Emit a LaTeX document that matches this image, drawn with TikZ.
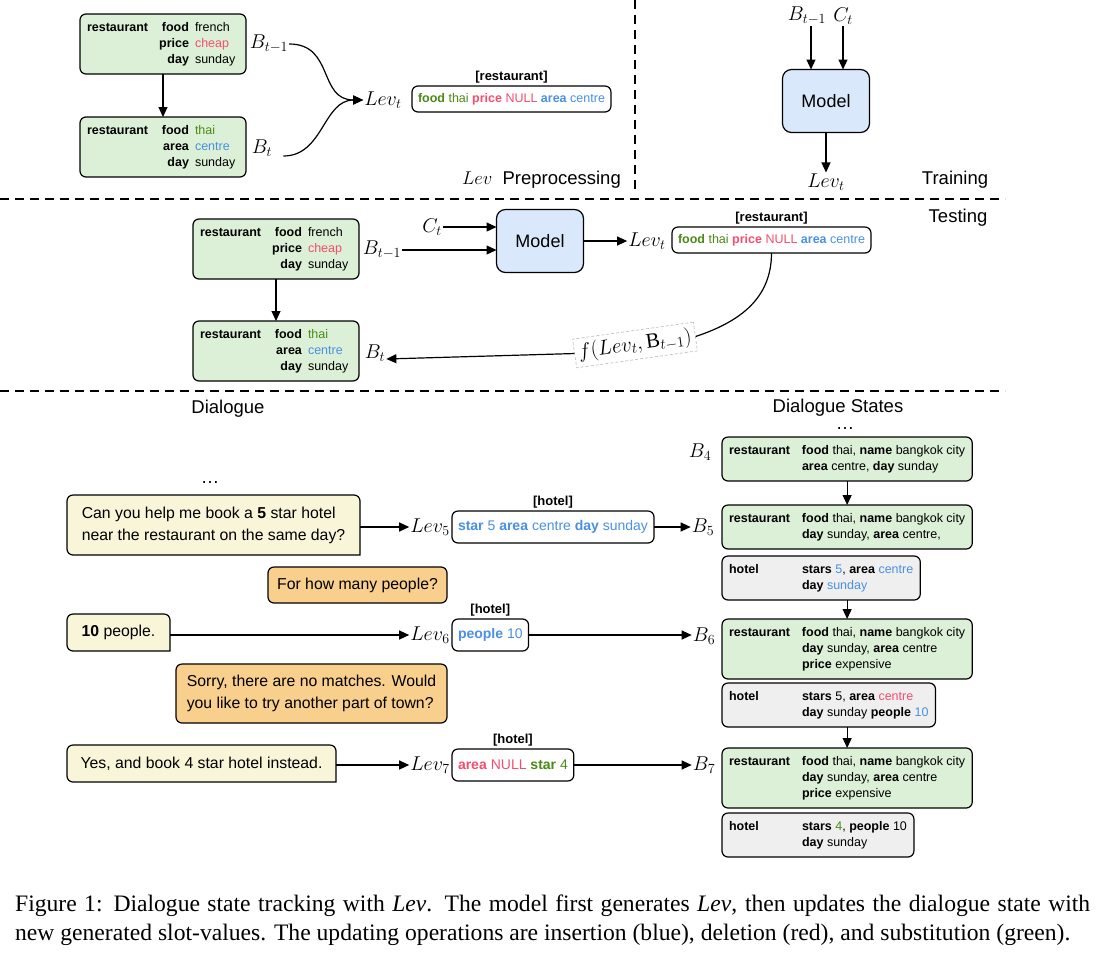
\RequirePackage{fix-cm}
\documentclass[tikz,border=0pt]{standalone}
\usepackage{fontspec}
\setmainfont{Liberation Serif}
\setsansfont{Liberation Sans}
\usepackage{array}
\usetikzlibrary{arrows.meta}
\usetikzlibrary{positioning}
\usetikzlibrary{backgrounds}

\definecolor{stategreen}{HTML}{DCF0D7}
\definecolor{hotelgray}{HTML}{EFEFEF}
\definecolor{modelblue}{HTML}{DAE8FC}
\definecolor{useryellow}{HTML}{F9F5D9}
\definecolor{sysorange}{HTML}{F9CF8D}
\definecolor{insblue}{HTML}{4A90E2}
\definecolor{delred}{HTML}{F54D6E}
\definecolor{subgreen}{HTML}{4B8A16}

\newcommand{\insv}[1]{\textcolor{insblue}{#1}}
\newcommand{\delv}[1]{\textcolor{delred}{#1}}
\newcommand{\subv}[1]{\textcolor{subgreen}{#1}}
% small state box of the upper part
\newcommand{\tstate}[6]{\begin{tabular}{@{}p{64pt}@{}>{\raggedleft\arraybackslash}p{38pt}@{\hspace{6pt}}p{44pt}@{}}
\textbf{restaurant} & \textbf{#1} & #2\\ & \textbf{#3} & #4\\ & \textbf{#5} & #6\end{tabular}}
% state box of the dialogue part
\newcommand{\dstate}[2]{\begin{tabular}{@{}p{66pt}@{\hspace{7pt}}l@{}}\textbf{#1} & #2\end{tabular}}

\tikzset{
  every node/.style={font=\sffamily},
  rbox/.style={draw, line width=1.2pt, rounded corners=6pt, outer sep=0pt},
  statebox/.style={rbox, fill=stategreen, anchor=north west, inner xsep=7pt, inner ysep=6pt,
    font=\sffamily\fontsize{12.5}{16}\selectfont},
  hotelbox/.style={statebox, fill=hotelgray},
  levbox/.style={rbox, fill=white, anchor=west, inner xsep=6pt, inner ysep=2pt, minimum height=26pt,
    font=\sffamily\fontsize{12.5}{15}\selectfont},
  levboxb/.style={levbox, minimum height=32pt, font=\sffamily\fontsize{14}{16}\selectfont},
  domlab/.style={inner sep=1pt, font=\sffamily\bfseries\fontsize{13}{15}\selectfont},
  mathlab/.style={inner sep=1pt, font=\fontsize{20}{24}\selectfont},
  modelbox/.style={rbox, fill=modelblue, rounded corners=9pt, minimum width=87pt, minimum height=63pt,
    font=\sffamily\fontsize{18}{20}\selectfont},
  bubtext/.style={anchor=north west, align=left, outer sep=0pt, font=\sffamily\fontsize{15.8}{22}\selectfont},
  bubline/.style={draw, line width=1.2pt},
  fbox/.style={draw=gray!55, dash pattern=on 3pt off 2pt, line width=0.6pt, inner sep=4pt,
    font=\fontsize{21}{24}\selectfont},
  headtxt/.style={inner sep=1pt, font=\sffamily\fontsize{18.5}{20}\selectfont},
  dots/.style={headtxt, inner sep=0pt, text height=3pt, text depth=0pt},
  flow/.style={line width=1.2pt, -{Triangle[length=10pt,width=9pt]}},
  divider/.style={line width=1.2pt, dash pattern=on 9pt off 6pt},
}

\begin{document}
\begin{tikzpicture}[x=1pt,y=-1pt]
\useasboundingbox (0,0) rectangle (1105,954);

% Lev preprocessing
\node[statebox] (bprev) at (80,14) {\tstate{food}{french}{price}{\delv{cheap}}{day}{sunday}};
\node[statebox] (bcur) at (80,117) {\tstate{food}{\subv{thai}}{area}{\insv{centre}}{day}{sunday}};
\draw[flow] (bprev) -- (bcur);
\node[mathlab] (bprevlab) at (269,44) {$B_{t-1}$};
\node[mathlab] (bcurlab) at (262,148) {$B_t$};
\node[mathlab] (levlab) at (383,100) {$Lev_t$};
\draw[flow] (bprevlab.east) .. controls +(45,0) and +(-45,0) .. (levlab.west);
\draw[flow] ([xshift=10pt,yshift=-8pt]bcurlab.east) .. controls +(40,0) and +(-40,0) .. (levlab.west);
\node[levbox] (levbox1) at (412,99) {\subv{\textbf{food} thai} \delv{\textbf{price} NULL} \insv{\textbf{area} centre}};
\node[domlab, above=2pt of levbox1] (levdom1) {[restaurant]};
\node[headtxt, anchor=east] (pretitle) at (622,180) {$Lev$\ \ Preprocessing};
\draw[divider] (635,0) -- (635,192);

% training
\node[modelbox] (model1) at (826,101) {Model};
\node[mathlab] (tbprev) at (807,16) {$B_{t-1}$};
\node[mathlab] (tct) at (843,16) {$C_t$};
\draw[flow] ([xshift=4pt]tbprev.south) -- ([xshift=4pt]tbprev.south |- model1.north);
\draw[flow] (tct.south) -- (tct.south |- model1.north);
\node[mathlab] (tlev) at (826,182) {$Lev_t$};
\draw[flow] (model1) -- (tlev);
\node[headtxt] (trainlab) at (955,180) {Training};
\draw[divider] (0,199) -- (1005,199);

% testing
\node[headtxt] (testlab) at (958,218) {Testing};
\node[statebox] (mprev) at (193,219) {\tstate{food}{french}{price}{\delv{cheap}}{day}{sunday}};
\node[statebox] (mcur) at (193,321) {\tstate{food}{\subv{thai}}{area}{\insv{centre}}{day}{sunday}};
\draw[flow] (mprev) -- (mcur);
\node[modelbox] (model2) at (540,241) {Model};
\node[mathlab] (mct) at (432,227) {$C_t$};
\node[mathlab] (mbprev) at (382,250) {$B_{t-1}$};
\draw[flow] (mct) -- (mct -| model2.west);
\draw[flow] (mbprev) -- (mbprev -| model2.west);
\node[mathlab] (mlev) at (647,241) {$Lev_t$};
\draw[flow] (model2) -- (mlev);
\node[levbox] (levbox2) at (672,240) {\subv{\textbf{food} thai} \delv{\textbf{price} NULL} \insv{\textbf{area} centre}};
\node[domlab, above=2pt of levbox2] (levdom2) {[restaurant]};
\node[fbox, rotate=8] (fmap) at (635,345) {$f(Lev_t, \mathrm{B}_{t-1})$};
\draw[line width=1.2pt] (levbox2.south) .. controls +(0,45) and +(45,-15) .. (fmap.east);
\node[mathlab] (mcurlab) at (375,353) {$B_t$};
\draw[flow] (fmap.west) -- ([yshift=-6pt]mcurlab.east);
\draw[divider] (0,391) -- (1005,391);

% dialogue
\node[headtxt] (dialab) at (228,409) {Dialogue};
\node[headtxt] (dslab) at (838,408) {Dialogue States};
\node[dots] (dsdots) at (845,428) {\ldots};
\node[dots] (diadots) at (210,482) {\ldots};

\node[statebox] (s4) at (722,437) {\dstate{restaurant}{\textbf{food} thai, \textbf{name} bangkok city\\ & \textbf{area} centre, \textbf{day} sunday}};
\node[statebox] (s5) at (722,505) {\dstate{restaurant}{\textbf{food} thai, \textbf{name} bangkok city\\ & \textbf{day} sunday, \textbf{area} centre,}};
\node[hotelbox] (h5) at (722,556) {\dstate{hotel}{\textbf{stars} \insv{5}, \textbf{area} \insv{centre}\\ & \textbf{day} \insv{sunday}}};
\node[statebox] (s6) at (722,619) {\dstate{restaurant}{\textbf{food} thai, \textbf{name} bangkok city\\ & \textbf{day} sunday, \textbf{area} centre\\ & \textbf{price} expensive}};
\node[hotelbox] (h6) at (722,683) {\dstate{hotel}{\textbf{stars} 5, \textbf{area} \delv{centre}\\ & \textbf{day} sunday \textbf{people} \insv{10}}};
\node[statebox] (s7) at (722,748) {\dstate{restaurant}{\textbf{food} thai, \textbf{name} bangkok city\\ & \textbf{day} sunday, \textbf{area} centre\\ & \textbf{price} expensive}};
\node[hotelbox] (h7) at (722,813) {\dstate{hotel}{\textbf{stars} \subv{4}, \textbf{people} 10\\ & \textbf{day} sunday}};
\draw[flow] (s4) -- (s5);
\draw[flow] (s6.north |- h5.south) -- (s6.north);
\draw[flow] (s7.north |- h6.south) -- (s7.north);
\node[mathlab] (b4) at (700,452) {$B_4$};
\node[mathlab] (b5) at (703,527) {$B_5$};
\node[mathlab] (b6) at (704,636) {$B_6$};
\node[mathlab] (b7) at (704,765) {$B_7$};

% speech bubbles, one square corner each
\node[bubtext, minimum width=293pt, minimum height=60pt] (u5) at (67,495) {Can you help me book a \textbf{5} star hotel\\near the restaurant on the same day?};
\node[bubtext, minimum width=179pt, minimum height=36pt] (o5) at (268,567) {For how many people?};
\node[bubtext, minimum width=103pt, minimum height=37pt] (u6) at (67,614) {\textbf{10} people.};
\node[bubtext, minimum width=271pt, minimum height=59pt] (o6) at (176,664) {Sorry, there are no matches. Would\\you like to try another part of town?};
\node[bubtext, minimum width=269pt, minimum height=37pt] (u7) at (67,745) {Yes, and book 4 star hotel instead.};
\begin{scope}[on background layer]
\foreach \n in {u5,u6,u7}
  \filldraw[bubline, fill=useryellow] (\n.south) [rounded corners=6pt] -- (\n.south west) -- (\n.north west)
    -- (\n.north east) [sharp corners] -- (\n.south east) -- cycle;
\foreach \n in {o5,o6}
  \filldraw[bubline, fill=sysorange] (\n.north) [rounded corners=6pt] -- (\n.north east) -- (\n.south east)
    -- (\n.south west) -- (\n.north west) [sharp corners] -- cycle;
\end{scope}

\node[mathlab] (lev5) at (430,527) {$Lev_5$};
\node[levboxb] (lb5) at (452,527) {\insv{\textbf{star} 5 \textbf{area} centre \textbf{day} sunday}};
\node[domlab, above=2pt of lb5] (hd5) {[hotel]};
\draw[flow] (u5.east |- lev5) -- (lev5.west);
\draw[flow] (lb5.east) -- (lb5.east -| b5.west);

\node[mathlab] (lev6) at (430,635) {$Lev_6$};
\node[levboxb] (lb6) at (452,635) {\insv{\textbf{people} 10}};
\node[domlab, above=2pt of lb6] (hd6) {[hotel]};
\draw[flow] (u6.east |- lev6) -- (lev6.west);
\draw[flow] (lb6.east) -- (lb6.east -| b6.west);

\node[mathlab] (lev7) at (430,765) {$Lev_7$};
\node[levboxb] (lb7) at (452,765) {\delv{\textbf{area} NULL} \subv{\textbf{star} 4}};
\node[domlab, above=2pt of lb7] (hd7) {[hotel]};
\draw[flow] (u7.east |- lev7) -- (lev7.west);
\draw[flow] (lb7.east) -- (lb7.east -| b7.west);

% caption
\node[anchor=north west, text width=1075pt, align=justify, inner sep=0pt, font=\rmfamily\fontsize{23.6}{29}\selectfont] (caption) at (15,895)
  {Figure 1: Dialogue state tracking with \textit{Lev}. The model first generates \textit{Lev}, then updates the dialogue state with\linebreak
   new generated slot-values. The updating operations are insertion (blue), deletion (red), and substitution (green).};
\end{tikzpicture}
\end{document}
